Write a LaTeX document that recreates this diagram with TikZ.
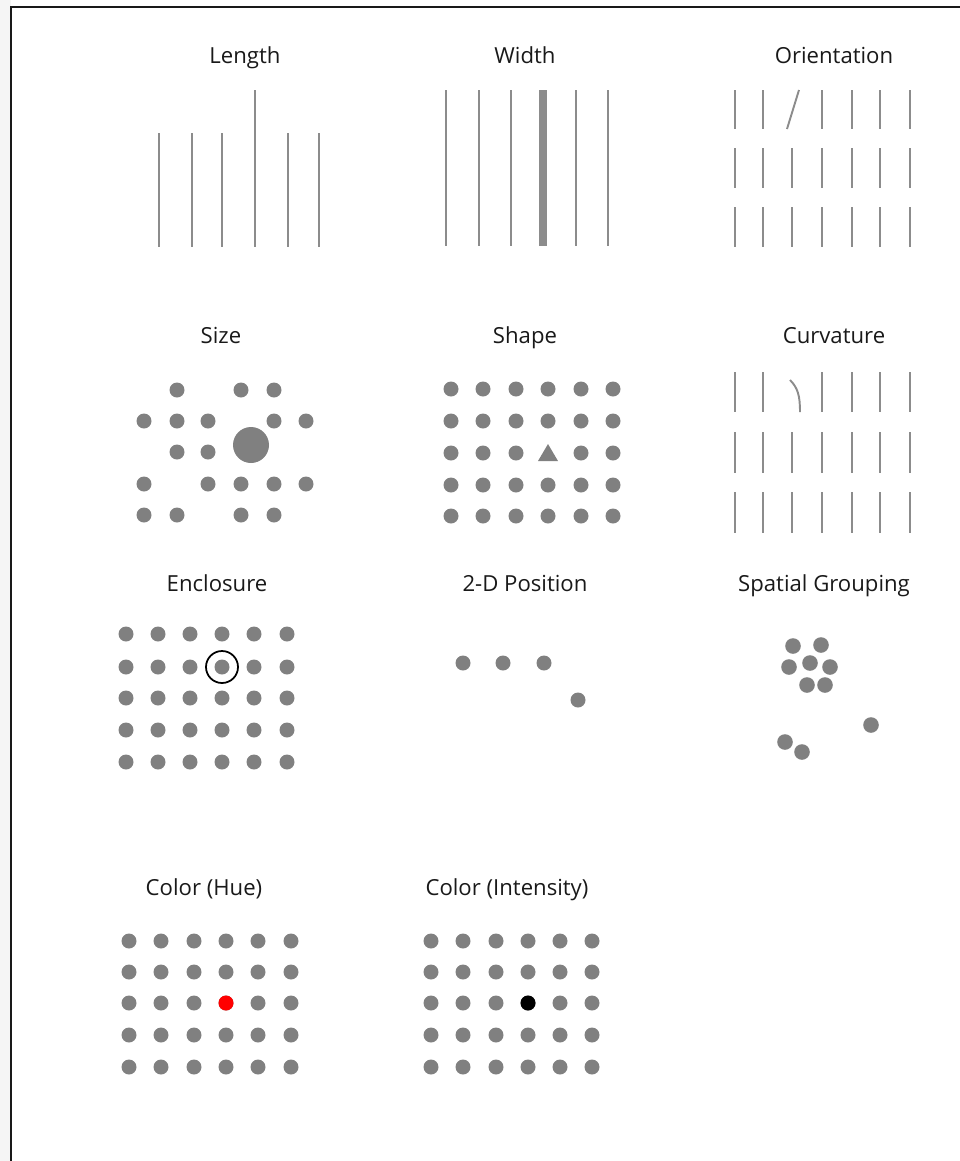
\documentclass[tikz,border=0pt]{standalone}
\usepackage{fontspec}
\setmainfont{Open Sans}
\definecolor{dotgray}{RGB}{128,128,128}
\definecolor{linegray}{RGB}{140,140,140}
\tikzset{
  title/.style={font=\fontsize{12.6}{15}\selectfont, text=black!90, inner sep=0pt, anchor=base},
  bar/.style={draw=linegray, line width=1.1pt},
  dot/.style={fill=dotgray}
}
\begin{document}
\begin{tikzpicture}
    [x=0.02cm,y=-0.02cm]
    \useasboundingbox (0,0) rectangle (960,1161);
    %frame
    \fill[black!4] (0,0) rectangle (11,1161);
    \draw[black!90, line width=0.6pt] (960,7)--(11,7)--(11,1161);
    %titles
    \node[title] (length) at (245,63) {Length};
    \node[title] (width) at (525,63) {Width};
    \node[title] (orient) at (834,63) {Orientation};
    \node[title] (size) at (221,343) {Size};
    \node[title] (shape) at (525,343) {Shape};
    \node[title] (curv) at (834,343) {Curvature};
    \node[title] (encl) at (217,591) {Enclosure};
    \node[title] (pos) at (525,591) {2-D Position};
    \node[title] (group) at (824,591) {Spatial Grouping};
    \node[title] (hue) at (204,895) {Color (Hue)};
    \node[title] (intens) at (507,895) {Color (Intensity)};
    %length
    \foreach \x in {159,192,222,288,319}
      \draw[bar] (\x,133)--(\x,247);
    \draw[bar] (255,90)--(255,247);
    %width
    \foreach \x in {446,479,511,576,608}
      \draw[bar] (\x,90)--(\x,246);
    \draw[bar, line width=4pt] (543,90)--(543,246);
    %orientation
    \foreach \x in {735,763,822,852,880,910}
      \draw[bar] (\x,90)--(\x,129);
    \draw[bar] (787,129)--(799,90);
    \foreach \y in {148,207}
      \foreach \x in {735,763,792,822,852,880,910}
        \draw[bar] (\x,\y)--(\x,\y+40);
    %size
    \foreach \x/\y in {177/390,241/390,274/390,
      144/421,177/421,208/421,274/421,306/421,
      177/452,208/452,
      144/484,208/484,241/484,274/484,306/484,
      144/515,177/515,241/515,274/515}
      \fill[dot] (\x,\y) circle (7.5);
    \fill[dot] (251,445) circle (18);
    %shape
    \foreach \y in {389,421,485,516}
      \foreach \x in {451,483,516,548,581,613}
        \fill[dot] (\x,\y) circle (7.5);
    \foreach \x in {451,483,516,581,613}
      \fill[dot] (\x,453) circle (7.5);
    \fill[dot] (548,444)--(558,461)--(538,461)--cycle;
    %curvature
    \foreach \x in {735,763,822,852,880,910}
      \draw[bar] (\x,372)--(\x,412);
    \draw[bar] (790,380) .. controls (798,388) and (800,396) .. (800,412);
    \foreach \y in {432,492}
      \foreach \x in {735,763,792,822,852,880,910}
        \draw[bar] (\x,\y)--(\x,\y+41);
    %enclosure
    \foreach \y in {634,667,698,730,762}
      \foreach \x in {126,158,190,222,254,287}
        \fill[dot] (\x,\y) circle (7.5);
    \draw[black, line width=1pt] (222,667) circle (16);
    %2-d position
    \foreach \x/\y in {463/663,503/663,544/663,578/700}
      \fill[dot] (\x,\y) circle (7.5);
    %spatial grouping
    \foreach \x/\y in {793/646,821/645,789/667,810/663,830/667,807/685,825/685,
      785/742,802/752,871/725}
      \fill[dot] (\x,\y) circle (7.8);
    %color hue
    \foreach \y in {941,972,1003,1035,1067}
      \foreach \x in {129,161,194,226,258,291}
        \fill[dot] (\x,\y) circle (7.5);
    \fill[red] (226,1003) circle (7.5);
    %color intensity
    \foreach \y in {941,972,1003,1035,1067}
      \foreach \x in {431,463,496,528,560,592}
        \fill[dot] (\x,\y) circle (7.5);
    \fill[black] (528,1003) circle (7.5);
\end{tikzpicture}
\end{document}
